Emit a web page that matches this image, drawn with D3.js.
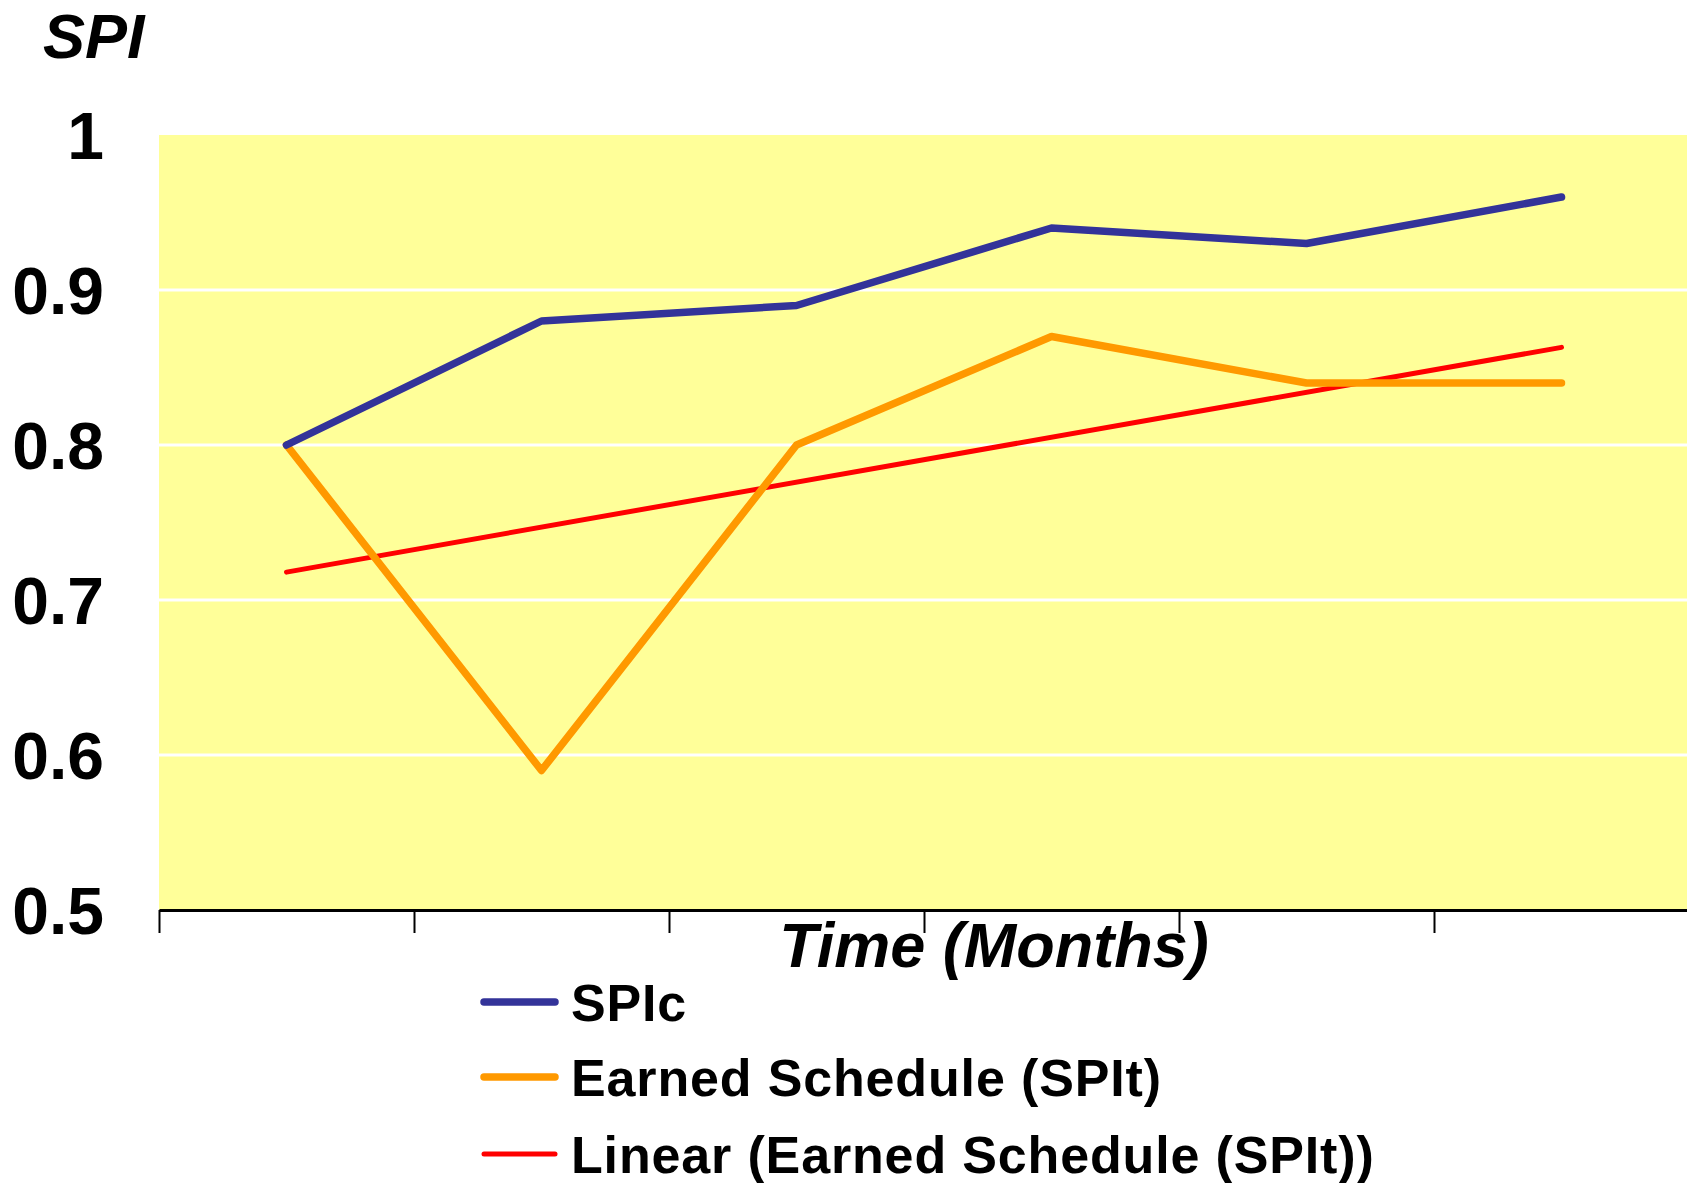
<!DOCTYPE html>
<html>
<head>
<meta charset="utf-8">
<script src="https://cdn.jsdelivr.net/npm/d3@7"></script>
<style>
  html, body { margin: 0; padding: 0; background: #fff; }
  svg { display: block; font-family: "Liberation Sans", Arial, sans-serif; }
</style>
</head>
<body>
<svg id="chart" width="1687" height="1183"></svg>
<script>
// ---- data ----
const categories = ["1", "2", "3", "4", "5", "6"];
const spicValues = [0.80, 0.88, 0.89, 0.94, 0.93, 0.96];
const earnedValues = [0.80, 0.59, 0.80, 0.87, 0.84, 0.84];
const trendCategories = ["1", "6"];
const trendValues = [0.718, 0.863];
const yTicks = [0.5, 0.6, 0.7, 0.8, 0.9, 1];
const yTickLabels = ["0.5", "0.6", "0.7", "0.8", "0.9", "1"];
const seriesNames = ["SPIc", "Earned Schedule (SPIt)", "Linear (Earned Schedule (SPIt))"];
const seriesColors = ["#333399", "#FF9900", "#FF0000"];

// ---- layout ----
const svg = d3.select("#chart");
const plot = { left: 159, right: 1689, top: 135, bottom: 910 };

const x = d3.scaleBand().domain(categories).range([plot.left, plot.right]);
const xc = c => x(c) + x.bandwidth() / 2;
const xEdge = d3.scaleLinear().domain([0, categories.length]).range([plot.left, plot.right]);
const y = d3.scaleLinear().domain([0.5, 1]).range([plot.bottom, plot.top]);

// background
svg.append("rect")
  .attr("x", plot.left).attr("y", plot.top)
  .attr("width", plot.right - plot.left).attr("height", plot.bottom - plot.top)
  .attr("fill", "#FFFF99");

// gridlines
svg.append("g").selectAll("line")
  .data(yTicks.filter(v => v > 0.5 && v < 1))
  .join("line")
  .attr("x1", plot.left).attr("x2", plot.right)
  .attr("y1", d => y(d)).attr("y2", d => y(d))
  .attr("stroke", "#fff").attr("stroke-width", 3);

// y tick labels
svg.append("g").selectAll("text")
  .data(yTicks)
  .join("text")
  .attr("x", 104)
  .attr("y", d => y(d))
  .attr("dy", "0.36em")
  .attr("text-anchor", "end")
  .attr("font-size", 66)
  .attr("font-weight", "bold")
  .attr("fill", "#000")
  .text((d, i) => yTickLabels[i]);

// x axis
const xAxis = d3.axisBottom(xEdge)
  .tickValues(d3.range(categories.length + 1))
  .tickFormat("")
  .tickSize(23)
  .tickSizeOuter(0);
const gx = svg.append("g").attr("transform", `translate(0,${plot.bottom})`).call(xAxis);
gx.select(".domain").attr("stroke", "#000").attr("stroke-width", 3);
gx.selectAll(".tick line").attr("stroke", "#000").attr("stroke-width", 2);

// lines
const line = d3.line().x(d => xc(d.c)).y(d => y(d.v));
const spicData = categories.map((c, i) => ({ c, v: spicValues[i] }));
const earnedData = categories.map((c, i) => ({ c, v: earnedValues[i] }));
const trendData = trendCategories.map((c, i) => ({ c, v: trendValues[i] }));

svg.append("path").datum(trendData).attr("d", line)
  .attr("fill", "none").attr("stroke", seriesColors[2]).attr("stroke-width", 5)
  .attr("stroke-linecap", "round");
svg.append("path").datum(earnedData).attr("d", line)
  .attr("fill", "none").attr("stroke", seriesColors[1]).attr("stroke-width", 7.5)
  .attr("stroke-linecap", "round").attr("stroke-linejoin", "round");
svg.append("path").datum(spicData).attr("d", line)
  .attr("fill", "none").attr("stroke", seriesColors[0]).attr("stroke-width", 7.5)
  .attr("stroke-linecap", "round").attr("stroke-linejoin", "round");

// axis titles
svg.append("text")
  .attr("x", 43).attr("y", 58)
  .attr("font-size", 63).attr("font-weight", "bold").attr("font-style", "italic")
  .text("SPI");
svg.append("text")
  .attr("x", 994).attr("y", 967)
  .attr("text-anchor", "middle")
  .attr("font-size", 63).attr("font-weight", "bold").attr("font-style", "italic")
  .text("Time (Months)");

// legend
const legendY = [1002, 1077, 1154];
const legendW = [7.5, 7.5, 5];
const lg = svg.append("g");
seriesNames.forEach((name, i) => {
  lg.append("line")
    .attr("x1", 484).attr("x2", 555)
    .attr("y1", legendY[i]).attr("y2", legendY[i])
    .attr("stroke", seriesColors[i]).attr("stroke-width", legendW[i])
    .attr("stroke-linecap", "round");
  lg.append("text")
    .attr("x", 571).attr("y", legendY[i] + 19)
    .attr("font-size", 52).attr("font-weight", "bold")
    .attr("letter-spacing", "0.85px")
    .text(name);
});
</script>
</body>
</html>
